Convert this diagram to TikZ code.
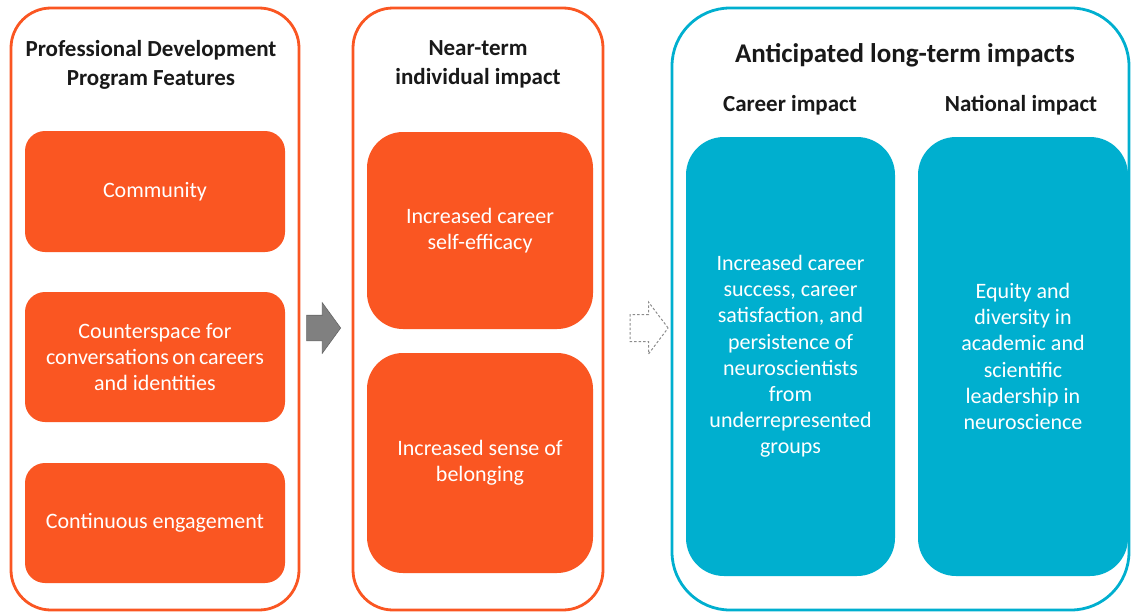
\documentclass[tikz,border=0pt]{standalone}
\usepackage{fontspec}
\setmainfont{Carlito}
\usetikzlibrary{shapes.arrows}
\definecolor{orangeC}{HTML}{FA5622}
\definecolor{blueC}{HTML}{00AFCF}
\definecolor{arrowgray}{HTML}{808080}
\tikzset{
  outerO/.style={draw=orangeC, line width=2.8pt, rounded corners=40pt, fill=white},
  outerB/.style={draw=blueC, line width=2.8pt, rounded corners=58pt, fill=white},
  innerO/.style={fill=orangeC, rounded corners=20pt, text=white, align=center,
    font=\fontsize{22}{26}\selectfont},
  innerO2/.style={fill=orangeC, rounded corners=36pt, text=white, align=center,
    font=\fontsize{22}{26}\selectfont},
  innerB/.style={fill=blueC, rounded corners=38pt, text=white, align=center,
    font=\fontsize{22}{26.2}\selectfont},
  headtxt/.style={align=center, font=\bfseries\fontsize{23}{29}\selectfont, text=black!90},
  bigtxt/.style={align=center, font=\bfseries\fontsize{27}{30}\selectfont, text=black!90},
}
\begin{document}
\begin{tikzpicture}[x=1pt,y=-1pt]
\useasboundingbox (0,0) rectangle (1132,613);
% outer panels
\node[outerO, minimum width=288pt, minimum height=602pt] (p1) at (155,309) {};
\node[outerO, minimum width=250pt, minimum height=602pt] (p2) at (478,309) {};
\node[outerB, minimum width=457pt, minimum height=602pt] (p3) at (900.5,309) {};
% titles
\node[headtxt] (t1) at (151,65) {Professional\ Development\\Program\ Features};
\node[headtxt] (t2) at (478,64) {Near-term\\individual\ impact};
\node[bigtxt] (t3) at (905,55) {Anticipated long-term impacts};
\node[headtxt] (t4) at (790,105) {Career impact};
\node[headtxt] (t5) at (1021,105) {National\ impact};
% inner boxes panel 1
\node[innerO, minimum width=260pt, minimum height=121pt] (c1) at (155,191.5) {Community};
\node[innerO, minimum width=260pt, minimum height=130pt] (c2) at (155,357) {Counterspace for\\{\spaceskip=3.5pt plus 1pt conversations on careers}\\and identities};
\node[innerO, minimum width=260pt, minimum height=120pt] (c3) at (155,523) {Continuous engagement};
% panel 2
\node[innerO2, minimum width=226pt, minimum height=197pt] (n1) at (480,230.5) {Increased career\\self-efficacy};
\node[innerO2, minimum width=226pt, minimum height=220pt] (n2) at (480,463) {Increased sense of\\belonging};
% panel 3
\node[innerB, minimum width=209pt, minimum height=439pt] (l1) at (790.5,356.5) {Increased career\\success, career\\satisfaction, and\\persistence of\\neuroscientists\\from\\underrepresented\\groups};
\node[innerB, minimum width=210pt, minimum height=439pt] (l2) at (1023,356.5) {Equity and\\diversity in\\academic and\\scientific\\leadership in\\neuroscience};
% block arrows
\node[single arrow, fill=arrowgray, draw=arrowgray!80!black, line width=0.6pt,
  minimum height=34pt, minimum width=50pt, single arrow head extend=12.5pt,
  single arrow tip angle=108, inner xsep=0pt, inner ysep=12.5pt] (a1) at (319,328) {};
\node[single arrow, draw=black!45, dashed, dash pattern=on 2.5pt off 2pt, line width=1pt,
  minimum height=38pt, minimum width=50pt, single arrow head extend=12.5pt,
  single arrow tip angle=106, inner xsep=0pt, inner ysep=13pt] (a2) at (644,328) {};
\end{tikzpicture}
\end{document}
